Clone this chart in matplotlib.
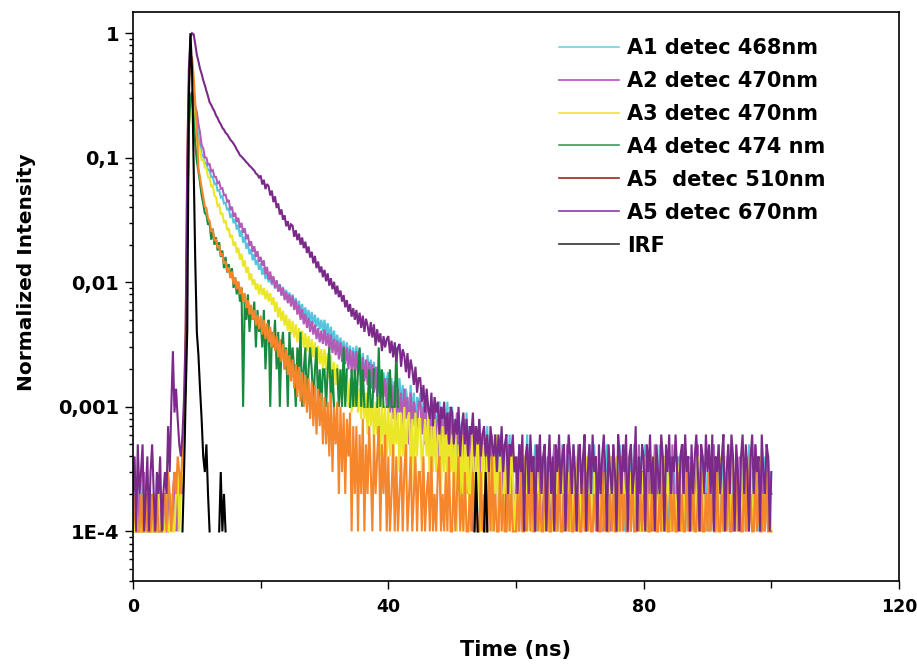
import numpy as np
import matplotlib
matplotlib.use("Agg")
import matplotlib.pyplot as plt
from matplotlib.lines import Line2D
from matplotlib.ticker import FixedLocator, FixedFormatter, LogLocator, NullFormatter

plt.rcParams['font.family'] = ['DejaVu Sans']
plt.rcParams['font.weight'] = 'bold'

# time channel width (ns); counts per channel
channel_ns = 0.25

a1_counts = [
    2,1,1,2,1,3,1,2,1,1,2,1,2,1,1,3,1,2,1,2,
    2,1,2,1,2,1,3,2,1,2,2,3,5,20,300,1800,2800,3000,2600,2200,
    1820,1460,1290,1060,1040,900,905,790,800,700,705,615,625,545,550,480,490,430,435,380,
    395,330,356,298,322,265,290,232,262,208,232,186,207,168,185,150,168,138,152,126,
    142,115,131,106,122,100,114,95,108,89,103,85,97,80,92,76,87,71,83,68,
    80,63,75,60,71,55,67,53,63,51,60,48,58,46,55,44,52,42,50,40,
    50,38,47,35,44,33,41,31,38,29,36,28,34,26,33,25,31,23,30,22,
    31,21,29,19,27,20,17,26,16,24,15,23,14,21,16,20,12,19,13,17,
    19,11,17,10,16,12,9,17,10,15,8,14,11,9,15,8,13,7,12,10,
    13,7,11,6,12,8,5,11,7,12,6,9,11,5,10,7,6,11,5,9,
    10,5,8,4,9,6,3,8,5,9,4,7,5,8,3,7,4,8,3,6,
    6,3,7,2,5,4,1,6,3,5,2,6,3,1,5,3,6,2,4,3,
    3,1,5,2,4,1,3,6,2,4,1,3,5,1,2,4,3,1,5,2,
    2,4,1,3,5,2,1,4,2,5,1,3,2,4,1,3,5,2,1,3,
    1,3,2,5,1,4,2,1,3,5,2,1,4,2,1,3,2,5,1,3,
    4,1,2,3,1,5,2,4,1,3,2,1,4,2,5,1,3,2,4,1,
    2,5,1,3,2,1,4,2,3,1,5,2,1,3,4,1,2,4,1,3,
    1,2,4,1,3,5,1,2,3,1,4,2,1,5,2,3,1,4,2,1,
    3,1,2,4,1,3,2,5,1,2,4,1,3,2,1,4,2,1,3,2,
    2,4,1,3,2,1,5,2,3,1,2,4,1,3,2,1,4,2,1,3,
    2]

a2_counts = [
    1,2,1,1,2,1,1,3,1,2,1,1,2,1,2,1,1,2,1,1,
    2,1,1,2,1,2,3,1,2,2,3,2,6,25,350,2000,3200,3400,3000,2600,
    2320,1860,1590,1260,1190,1010,1000,880,890,780,795,705,700,625,640,565,570,500,505,445,
    458,380,405,336,362,305,330,275,300,250,272,222,242,196,214,176,195,160,178,146,
    160,136,150,116,133,105,122,98,112,90,104,84,96,78,90,72,84,68,80,64,
    78,60,72,55,66,50,61,46,56,43,52,40,49,38,46,35,43,33,41,32,
    42,31,39,28,38,27,35,26,34,24,33,23,31,22,30,20,29,19,28,18,
    28,18,26,17,25,16,24,15,23,14,22,13,21,12,20,11,19,12,17,10,
    17,9,15,8,16,7,14,9,13,6,14,8,12,5,13,7,11,9,6,11,
    11,6,10,5,12,6,9,4,9,10,5,8,4,10,5,8,4,7,9,4,
    8,3,6,9,3,6,2,8,4,7,2,6,5,1,7,3,5,6,2,5,
    5,2,1,5,3,6,2,4,5,1,3,2,5,3,1,4,5,2,3,1,
    2,4,1,5,2,3,1,2,4,5,1,3,1,2,5,2,4,1,2,3,
    4,1,2,3,5,1,2,4,2,1,3,2,5,1,3,2,1,4,2,5,
    1,2,4,2,1,3,5,2,1,2,4,1,2,3,1,5,1,2,4,1,
    2,5,1,3,2,1,4,2,5,1,2,3,1,2,4,1,2,5,1,3,
    3,2,1,2,4,1,2,5,1,3,2,1,2,4,1,2,3,1,5,2,
    1,4,2,1,2,5,1,2,3,1,4,2,1,2,5,1,2,3,1,2,
    2,1,4,2,5,1,2,1,3,2,1,4,2,5,1,2,1,3,2,1,
    4,2,1,2,1,3,2,4,1,2,5,1,2,1,3,2,1,2,4,2,
    2]

a3_counts = [
    1,1,2,1,1,1,2,1,1,2,1,1,1,2,1,1,2,1,1,1,
    1,2,1,1,2,1,1,2,3,1,2,3,5,18,280,1700,2800,3000,2500,1900,
    1530,1220,1150,960,965,835,830,700,690,590,600,495,485,410,420,350,360,300,315,262,
    272,228,240,196,212,172,190,152,170,134,150,119,133,104,118,95,106,87,98,80,
    96,79,90,73,86,70,82,66,76,58,70,52,63,49,59,45,55,41,51,38,
    49,36,46,33,43,32,41,30,39,28,37,26,35,25,33,23,31,22,29,20,
    29,20,27,17,26,16,23,15,22,13,20,12,19,11,18,10,17,9,16,10,
    15,9,14,8,15,8,13,6,12,7,13,5,11,6,12,4,11,5,10,4,
    10,4,9,3,10,5,9,3,9,4,10,3,8,9,3,8,2,9,4,8,
    8,3,5,8,4,9,2,7,3,8,3,6,8,2,7,3,8,2,7,3,
    6,2,7,1,5,2,6,1,7,2,5,1,4,6,1,4,6,2,1,5,
    4,1,5,2,4,1,5,2,6,1,4,2,1,5,2,4,1,5,3,1,
    2,1,4,2,1,3,4,1,2,3,1,2,1,4,2,1,2,3,1,2,
    1,3,2,1,2,1,4,3,1,4,2,1,2,3,1,2,1,4,2,1,
    3,1,2,1,4,2,1,3,1,2,4,1,3,1,2,1,3,2,1,4,
    2,1,3,4,1,2,1,3,2,1,4,1,3,2,1,4,1,2,1,3,
    1,4,1,2,1,3,4,1,2,1,3,2,1,4,1,3,2,1,2,1,
    2,1,3,4,1,2,1,4,1,2,1,3,2,1,4,1,2,3,1,2,
    1,3,1,4,2,1,3,1,4,2,1,4,1,2,1,3,4,1,2,1,
    2,4,1,2,1,3,1,4,1,2,3,1,2,4,1,2,1,3,1,2,
    1]

# A4 was recorded with fewer counts: one count = 1e-3
a4_counts = [
    0,0,0,0,0,0,0,0,0,0,0,0,0,0,0,0,0,0,0,0,
    0,0,0,0,0,0,0,0,0,0,0,0,0,2,30,180,300,330,210,130,
    94,78,63,50,43,36,35,29,30,22,27,20,23,18,21,16,18,13,16,12,
    14,11,13,9,11,8,10,7,9,1,7,5,8,4,6,5,7,3,6,4,
    5,3,6,2,4,5,1,4,3,5,2,4,1,3,4,2,3,1,4,2,
    3,2,1,3,2,4,1,2,3,1,2,3,2,1,2,3,1,2,1,2,
    2,1,2,3,1,2,1,0,2,1,2,1,3,1,2,0,1,2,1,2,
    1,2,3,1,2,1,0,1,2,1,1,2,0,1,3,1,2,1,0,1,
    1,2,1,1,1,3,1]

a5_510_counts = [
    1,2,1,1,1,2,1,1,2,1,1,1,2,1,1,2,1,1,1,2,
    2,1,3,2,1,2,3,2,4,3,2,5,8,40,900,4000,5500,6500,4500,2800,
    1710,830,690,575,490,405,395,325,312,258,262,218,220,188,198,166,168,141,148,122,
    132,108,122,96,110,88,102,80,92,70,82,62,72,55,66,50,60,45,55,42,
    54,38,50,35,47,33,44,30,40,28,37,25,35,23,32,20,29,18,26,16,
    24,14,22,12,21,11,19,10,18,9,17,8,16,7,15,6,14,7,13,5,
    12,5,11,4,13,3,10,5,11,2,10,3,9,2,8,4,9,1,7,2,
    7,1,6,2,8,1,5,2,7,3,1,6,2,4,7,1,5,2,6,1,
    4,1,2,5,1,4,1,2,4,1,3,5,1,2,4,1,2,4,1,3,
    3,1,4,1,2,3,1,4,1,2,1,3,4,1,2,1,3,1,4,1,
    1,3,1,2,4,1,2,1,3,1,1,2,1,3,1,2,1,1,3,1,
    2,1,1,3,1,4,1,2,1,1,3,1,2,1,1,3,1,2,1,1,
    1,2,1,3,1,1,2,1,4,1,3,1,1,2,1,2,1,1,3,1,
    3,1,1,2,1,2,1,3,1,1,2,1,2,1,4,1,1,2,1,2,
    1,1,3,1,3,1,2,1,1,2,1,3,1,1,3,1,2,1,1,2,
    1,2,1,1,3,1,4,1,2,1,1,2,1,3,1,1,3,1,2,1,
    2,1,3,1,1,2,1,3,1,1,2,1,4,1,2,1,1,3,1,2,
    1,1,3,1,2,1,1,4,1,2,1,3,1,1,2,1,3,1,1,2,
    1,3,1,2,1,1,3,1,1,2,1,3,1,4,1,1,2,1,3,1,
    2,1,1,3,1,4,1,2,1,1,3,1,2,1,1,2,1,3,1,1,
    1]

a5_670_counts = [
    2,4,1,5,2,3,5,1,2,4,1,3,5,2,1,3,2,4,1,2,
    3,2,7,3,10,28,9,14,8,5,4,6,12,40,900,5200,9300,10000,9800,8200,
    6700,5950,5180,4720,4190,3830,3440,3120,2790,2660,2490,2370,2190,2090,1950,1860,1740,1680,1590,1540,
    1470,1395,1352,1298,1236,1165,1112,1048,1022,987,958,921,897,861,842,812,789,748,731,694,
    720,610,665,560,615,590,498,545,440,490,395,430,350,385,318,345,282,310,262,292,
    285,232,262,218,246,200,229,188,212,172,194,158,176,142,163,130,147,120,134,110,
    126,102,118,94,108,88,101,80,94,76,86,70,79,63,72,58,67,53,62,50,
    60,46,57,43,54,40,51,45,37,48,36,46,31,42,33,39,28,37,30,35,
    37,27,34,25,33,23,30,32,21,29,26,19,27,17,24,20,15,21,13,17,
    17,11,15,9,14,10,8,13,7,12,9,11,6,10,8,11,6,9,5,10,
    9,5,8,6,10,4,7,9,5,8,4,7,6,9,4,7,5,8,4,6,
    7,4,6,3,7,5,4,6,3,6,4,7,3,5,6,2,5,4,6,3,
    4,2,5,3,6,1,4,5,2,6,3,4,1,5,3,6,2,4,5,1,
    3,6,2,4,1,5,3,6,2,4,5,1,3,6,4,2,5,3,1,4,
    5,2,4,6,1,3,5,2,6,3,4,1,5,2,4,6,3,1,5,3,
    2,5,3,1,6,4,2,5,3,6,1,4,5,2,3,7,1,4,2,5,
    4,1,5,3,6,2,4,1,5,3,2,6,4,1,5,3,6,2,4,3,
    6,3,1,4,5,2,6,3,4,1,5,2,4,6,3,1,5,4,2,6,
    3,5,2,6,1,4,3,5,2,4,6,1,3,5,2,6,4,1,5,3,
    1,4,6,2,5,3,1,4,6,2,5,3,4,1,6,3,2,5,4,1,
    3]

irf_counts = (
    [0]*20 +
    [0,0,0,0,0,0,0,0,0,0,0,1,3,12,41,3000,10000,5000,900,150] +
    [40,26,14,8,4,3,5,2,1,0,0,0,0,0,1,3,1,2,1,0] +
    [0]*140 +
    [0,0,0,0,0,0,0,0,0,0,0,0,0,0,1,3,1,0,0,0] +
    [1,3,1,0,0])

labels = ["A1 detec 468nm", "A2 detec 470nm", "A3 detec 470nm", "A4 detec 474 nm",
          "A5  detec 510nm", "A5 detec 670nm", "IRF"]
count_unit = [1e-4, 1e-4, 1e-4, 1e-3, 1e-4, 1e-4, 1e-4]
line_colors = ["#55c4dc", "#b25cb6", "#ece629", "#178a3e", "#f5862c", "#7b2a8a", "#000000"]
legend_colors = ["#78cfe4", "#c04cc4", "#f0e23a", "#3d9c5e", "#a02222", "#8a3ca2", "#333333"]

y_ticks = [1e-4, 1e-3, 1e-2, 1e-1, 1]
y_ticklabels = ["1E-4", "0,001", "0,01", "0,1", "1"]
x_ticks = [0, 40, 80, 120]
x_ticklabels = ["0", "40", "80", "120"]
x_minor = [20, 60, 100]

series = [a1_counts, a2_counts, a3_counts, a4_counts, a5_510_counts, a5_670_counts, irf_counts]

fig = plt.figure(figsize=(9.17, 6.64), dpi=100)
ax = fig.add_axes([133/917, 83/664, 766/917, 569/664])

for counts, unit, col in zip(series, count_unit, line_colors):
    c = np.asarray(counts, dtype=float)
    t = np.arange(len(c)) * channel_ns
    y = np.where(c > 0, c * unit, np.nan)
    ax.plot(t, y, color=col, lw=1.5, solid_joinstyle='miter')

ax.set_yscale('log')
ax.set_xlim(0, 120)
ax.set_ylim(4e-5, 1.48)

ax.yaxis.set_major_locator(FixedLocator(y_ticks))
ax.yaxis.set_major_formatter(FixedFormatter(y_ticklabels))
ax.yaxis.set_minor_locator(LogLocator(base=10, subs=np.arange(2, 10), numticks=20))
ax.yaxis.set_minor_formatter(NullFormatter())
ax.xaxis.set_major_locator(FixedLocator(x_ticks))
ax.xaxis.set_major_formatter(FixedFormatter(x_ticklabels))
ax.xaxis.set_minor_locator(FixedLocator(x_minor))

ax.tick_params(axis='y', which='major', direction='out', length=6, width=1.0,
               labelsize=14, pad=4)
ax.tick_params(axis='x', which='major', direction='out', length=6, width=1.0,
               labelsize=12.5, pad=6)
ax.tick_params(axis='y', which='minor', direction='out', length=3, width=1.0)
ax.tick_params(axis='x', which='minor', direction='out', length=5, width=1.0)
for lab in ax.get_xticklabels() + ax.get_yticklabels():
    lab.set_fontweight('bold')
for s in ax.spines.values():
    s.set_linewidth(1.2)

ax.set_xlabel("Time (ns)", fontsize=15, fontweight='bold')
ax.set_ylabel("Normalized Intensity", fontsize=14.5, fontweight='bold')
ax.xaxis.set_label_coords(0.5, -0.103)
ax.yaxis.set_label_coords(-0.127, 0.543)

handles = [Line2D([], [], color=c, lw=1.2) for c in legend_colors]
fig.legend(handles, labels, loc='upper left', bbox_to_anchor=(559/917, 1 - 38/664),
           bbox_transform=fig.transFigure, frameon=False, borderpad=0, borderaxespad=0,
           handlelength=2.9, handletextpad=0.35, labelspacing=0.62,
           prop={'family': 'DejaVu Sans', 'weight': 'bold', 'size': 15})

fig.savefig("out.png", dpi=100)
